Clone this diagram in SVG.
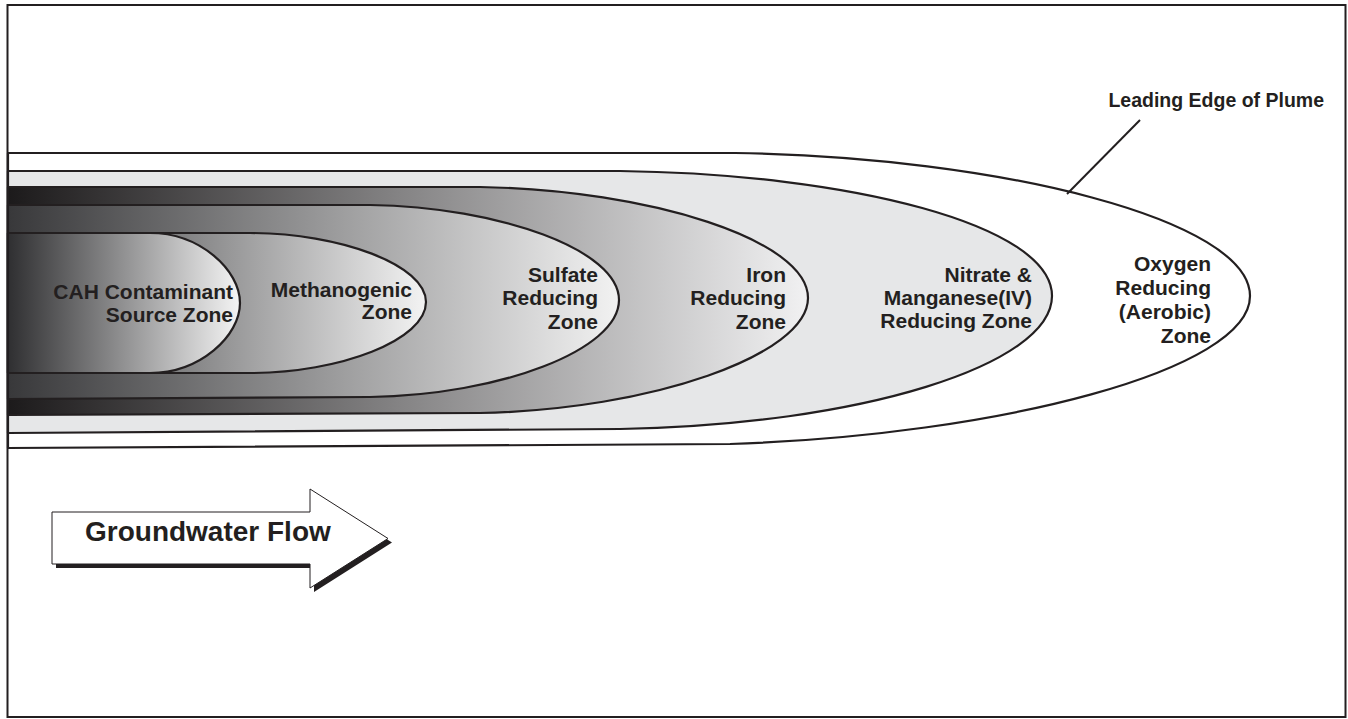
<svg xmlns="http://www.w3.org/2000/svg" width="1348" height="719" viewBox="0 0 1348 719">
<defs>
<linearGradient id="gCAH" gradientUnits="userSpaceOnUse" x1="8" y1="0" x2="240" y2="0"><stop offset="0" stop-color="#2f2f31"/><stop offset="1" stop-color="#f4f4f4"/></linearGradient>
<linearGradient id="gMeth" gradientUnits="userSpaceOnUse" x1="8" y1="0" x2="426" y2="0"><stop offset="0" stop-color="#303032"/><stop offset="1" stop-color="#f3f3f3"/></linearGradient>
<linearGradient id="gSulf" gradientUnits="userSpaceOnUse" x1="8" y1="0" x2="619" y2="0"><stop offset="0" stop-color="#38383a"/><stop offset="1" stop-color="#f2f2f2"/></linearGradient>
<linearGradient id="gIron" gradientUnits="userSpaceOnUse" x1="8" y1="0" x2="808" y2="0"><stop offset="0" stop-color="#1c1a1b"/><stop offset="1" stop-color="#f1f1f2"/></linearGradient>
<style>
.zone{stroke:#231f20;stroke-width:2.2;stroke-linejoin:round}
.lbl{font-family:"Liberation Sans",Arial,Helvetica,sans-serif;font-weight:bold;font-size:21px;fill:#231f20;text-anchor:end}
.big{font-family:"Liberation Sans",Arial,Helvetica,sans-serif;font-weight:bold;fill:#231f20}
.line{stroke:#231f20;stroke-width:2;fill:none}
</style>
</defs>
<rect x="0" y="0" width="1348" height="719" fill="#ffffff"/>

<g id="oxygen-zone">
<path class="zone" fill="#ffffff" d="M 8 153 L 735 153 C 1000 157, 1250 220, 1250 296 C 1250 370, 1000 435, 730 444 L 8 448 Z"/>
<text class="lbl" x="1211" y="271">Oxygen</text>
<text class="lbl" x="1211" y="295">Reducing</text>
<text class="lbl" x="1211" y="319">(Aerobic)</text>
<text class="lbl" x="1211" y="343">Zone</text>
</g>

<g id="nitrate-zone">
<path class="zone" fill="#e6e7e8" d="M 8 171 L 620 171 C 850 174, 1052 225, 1052 296 C 1052 365, 860 425, 620 429 L 8 433 Z"/>
<text class="lbl" x="1032" y="282">Nitrate &amp;</text>
<text class="lbl" x="1032" y="305">Manganese(IV)</text>
<text class="lbl" x="1032" y="328">Reducing Zone</text>
</g>

<g id="iron-zone">
<path class="zone" fill="url(#gIron)" d="M 8 187 L 480 187 C 650 190, 808 240, 808 298 C 808 355, 650 410, 480 413 L 8 415 Z"/>
<text class="lbl" x="786" y="282">Iron</text>
<text class="lbl" x="786" y="305">Reducing</text>
<text class="lbl" x="786" y="329">Zone</text>
</g>

<g id="sulfate-zone">
<path class="zone" fill="url(#gSulf)" d="M 8 205 L 370 205 C 500 207, 619 250, 619 300 C 619 350, 500 395, 370 397 L 8 399 Z"/>
<text class="lbl" x="598" y="282">Sulfate</text>
<text class="lbl" x="598" y="305">Reducing</text>
<text class="lbl" x="598" y="329">Zone</text>
</g>

<g id="methanogenic-zone">
<path class="zone" fill="url(#gMeth)" d="M 8 233 L 250 233 C 340 233, 426 265, 426 302 C 426 340, 340 373, 250 373 L 8 373 Z"/>
<text class="lbl" x="412" y="297">Methanogenic</text>
<text class="lbl" x="412" y="319">Zone</text>
</g>

<g id="cah-source-zone">
<path class="zone" fill="url(#gCAH)" d="M 8 233 L 150 233 C 200 233, 240 270, 240 303 C 240 336, 200 373, 150 373 L 8 373 Z"/>
<text class="lbl" x="233" y="299">CAH Contaminant</text>
<text class="lbl" x="233" y="322">Source Zone</text>
</g>

<g id="leading-edge-label">
<text class="big" x="1324" y="107" font-size="19.5" text-anchor="end">Leading Edge of Plume</text>
</g>

<g id="connectors">
<line class="line" x1="1140" y1="120" x2="1067" y2="194"/>
</g>

<g id="groundwater-flow">
<path fill="#231f20" d="M 56 516 L 314 516 L 314 493 L 392 542.5 L 314 592 L 314 568 L 56 568 Z"/>
<path fill="#ffffff" stroke="#231f20" stroke-width="1" d="M 52 512 L 310 512 L 310 489 L 388 538.5 L 310 588 L 310 564 L 52 564 Z"/>
<text class="big" x="85" y="541" font-size="28">Groundwater Flow</text>
</g>

<rect x="7.5" y="5" width="1338" height="712" fill="none" stroke="#231f20" stroke-width="2"/>
</svg>
